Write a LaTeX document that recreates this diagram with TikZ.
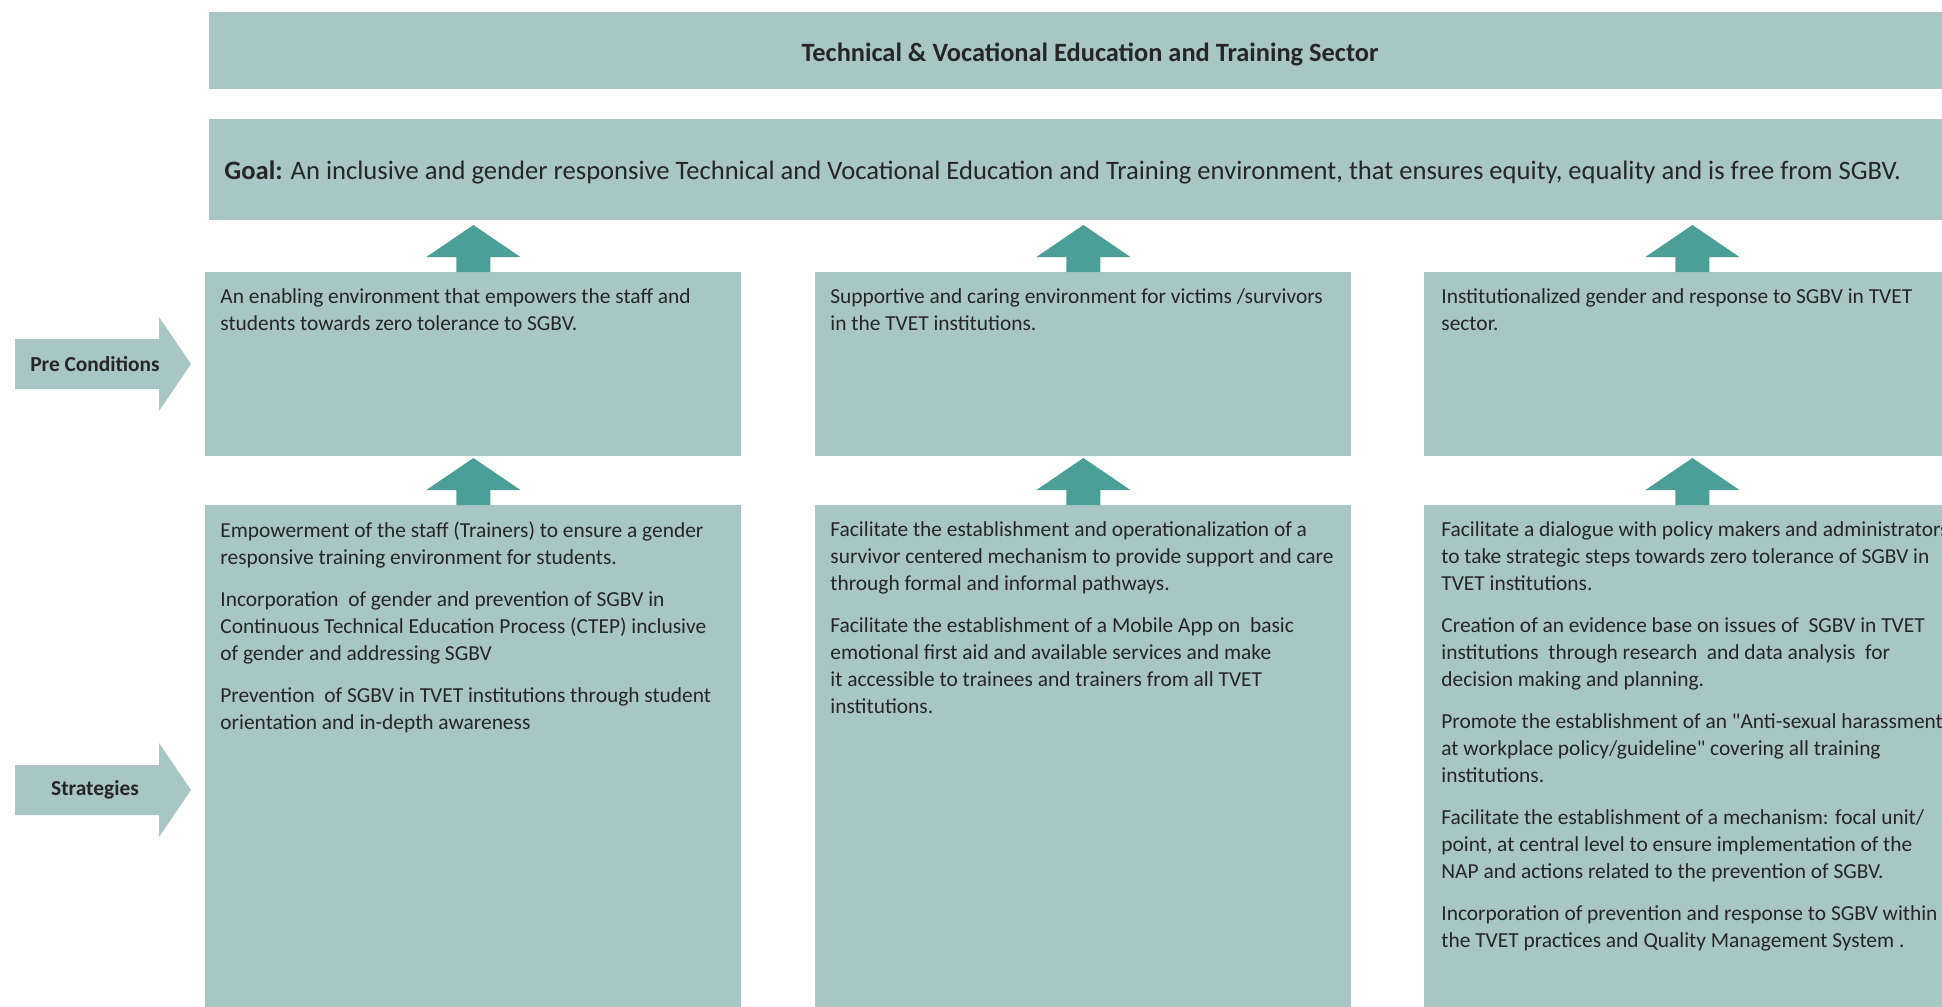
\documentclass[tikz,border=0pt]{standalone}
\usepackage{fontspec}
\setmainfont{Carlito}[Ligatures=TeXOff]
\usetikzlibrary{positioning,calc}

\definecolor{panel}{HTML}{A8C6C4}
\definecolor{teal}{HTML}{4A9F96}
\definecolor{ink}{HTML}{262626}

\begin{document}
\begin{tikzpicture}[
    x=0.5pt, y=-0.5pt,
    band/.style={fill=panel, inner sep=0pt, anchor=north west, minimum height=#1},
    col/.style={band=#1, minimum width=268pt},
    txt/.style={anchor=north west, align=left, inner sep=0pt, text=ink, font=\fontsize{10.7}{13.5}\selectfont},
    uparr/.style={fill=teal},
    side/.style={fill=panel},
    sidelbl/.style={font=\bfseries\fontsize{10.7}{12}\selectfont, text=ink}
]
    \useasboundingbox (0,0) rectangle (1942,1006);

    % Header bands
    \node[band=38.5pt, minimum width=881pt] (sector) at (209,12) {};
    \node[font=\bfseries\fontsize{13.2}{15}\selectfont, text=ink] (sectortxt) at (1090,54) {Technical \& Vocational Education and Training Sector};
    \node[band=50.5pt, minimum width=881pt] (goal) at (209,119) {};
    \node[anchor=west, inner sep=0pt, text=ink, font=\fontsize{13.3}{16}\selectfont] (goaltxt) at ($(goal.west)+(15,3)$)
        {\textbf{Goal:} An inclusive and gender responsive Technical and Vocational Education and Training environment, that ensures equity, equality and is free from SGBV.};

    % Pre-condition boxes
    \node[col=92pt] (pre1) at (205,272) {};
    \node[col=92pt] (pre2) at (815,272) {};
    \node[col=92pt] (pre3) at (1424,272) {};

    % Strategy boxes
    \node[col=260pt] (str1) at (205,505) {};
    \node[col=260pt] (str2) at (815,505) {};
    \node[col=260pt] (str3) at (1424,505) {};

    % Block arrows pointing up into the row above
    \foreach \b in {pre1,pre2,pre3,str1,str2,str3}
        \fill[uparr] (\b.north) ++(-17,0) -- ++(0,-15) -- ++(-30,0) -- ++(47,-32)
            -- ++(47,32) -- ++(-30,0) -- ++(0,15) -- cycle;

    % Row labels
    \coordinate (precond) at (15,364);
    \coordinate (strat) at (15,790);
    \foreach \r in {precond,strat}
        \fill[side] (\r) ++(0,-25) -- ++(144,0) -- ++(0,-22) -- ++(32,47)
            -- ++(-32,47) -- ++(0,-22) -- ++(-144,0) -- cycle;
    \node[sidelbl] (precondtxt) at ($(precond)+(80,0)$) {Pre Conditions};
    \node[sidelbl] (strattxt) at ($(strat)+(80,0)$) {Strategies};

    % Pre-condition texts
    \node[txt] (pre1txt) at ($(pre1.north west)+(15,16)$)
        {An enabling environment that empowers the staff and\\students towards zero tolerance to SGBV.};
    \node[txt] (pre2txt) at ($(pre2.north west)+(15,16)$)
        {Supportive and caring environment for victims /survivors\\in the TVET institutions.};
    \node[txt] (pre3txt) at ($(pre3.north west)+(17,16)$)
        {Institutionalized gender and response to SGBV in TVET\\sector.};

    % Strategy texts
    \node[txt] (str1txt) at ($(str1.north west)+(15,16)$)
        {Empowerment of the staff (Trainers) to ensure a gender\\responsive training environment for students.\\[7.5pt]
         Incorporation\ \ of gender and prevention of SGBV in\\Continuous Technical Education Process (CTEP) inclusive\\of gender and addressing SGBV\\[7.5pt]
         Prevention\ \ of SGBV in TVET institutions through student\\orientation and in-depth awareness};
    \node[txt] (str2txt) at ($(str2.north west)+(15,16)$)
        {Facilitate the establishment and operationalization of a\\survivor centered mechanism to provide support and care\\through formal and informal pathways.\\[7.5pt]
         Facilitate the establishment of a Mobile App on\ \ basic\\emotional first aid and available services and make\\it accessible to trainees and trainers from all TVET\\institutions.};
    \node[txt] (str3txt) at ($(str3.north west)+(17,16)$)
        {Facilitate a dialogue with policy makers and administrators\\to take strategic steps towards zero tolerance of SGBV in\\TVET institutions.\\[7.5pt]
         Creation of an evidence base on issues of\ \ SGBV in TVET\\institutions\ \ through research\ \ and data analysis\ \ for\\decision making and planning.\\[7.5pt]
         Promote the establishment of an "Anti-sexual harassment\\at workplace policy/guideline" covering all training\\institutions.\\[7.5pt]
         Facilitate the establishment of a mechanism: focal unit/\\point, at central level to ensure implementation of the\\NAP and actions related to the prevention of SGBV.\\[7.5pt]
         Incorporation of prevention and response to SGBV within\\the TVET practices and Quality Management System .};
\end{tikzpicture}
\end{document}
